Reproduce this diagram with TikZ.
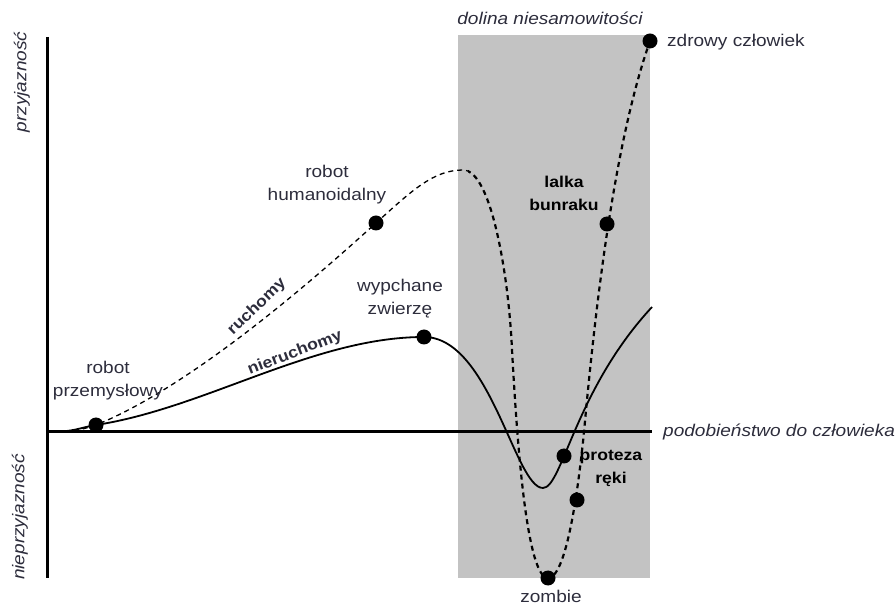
\documentclass[tikz,border=0pt]{standalone}
\usepackage{fontspec}
\setmainfont[FakeStretch=1.12]{Liberation Sans}
\definecolor{greyv}{RGB}{195,195,195}
\definecolor{inkd}{RGB}{45,45,60}

\begin{document}
\begin{tikzpicture}[x=1pt,y=-1pt,
        lbl/.style={text=inkd, font=\fontsize{17}{23}\selectfont, align=center, inner sep=0pt},
        ilbl/.style={lbl, font=\fontsize{17}{23}\selectfont\itshape},
        blbl/.style={text=black, font=\fontsize{15.7}{23}\selectfont\bfseries, align=center, inner sep=0pt},
        dot/.style={circle, fill=black, minimum size=15pt, inner sep=0pt},
        ruch/.style={dash pattern=on 5pt off 4pt}]
            \useasboundingbox (0,0) rectangle (895,609);
            % valley and axes
            \fill[greyv] (458,35) rectangle (650,578);
            \draw[line width=3pt] (47,37) -- (47,578);
            \draw[line width=3pt] (47,432) -- (652,432);
            % nieruchomy
            \draw[line width=1.8pt] (47,432) .. controls (75,432) and (80,427.5) .. (96,425)
                .. controls (206,408) and (314,337) .. (424,337)
                .. controls (490,337) and (515,488) .. (543,488)
                .. controls (562,488) and (575,390) .. (652,307);
            % ruchomy, thin then thick
            \path[save path=\ruchpath] (47,432) .. controls (75,432) and (80,430) .. (96,425)
                .. controls (200,383) and (336,259) .. (376,223)
                .. controls (411,191.5) and (433,170) .. (463,170)
                .. controls (492,170) and (509,280) .. (512,350)
                .. controls (516,420) and (525,578) .. (548,578)
                .. controls (565,578) and (577,502) .. (584,432)
                .. controls (596,300) and (615,140) .. (650,41);
            \begin{scope}
                \clip (40,0) rectangle (468,609);
                \draw[ruch, line width=1.3pt, use path=\ruchpath];
            \end{scope}
            \begin{scope}
                \clip (468,0) rectangle (700,609);
                \draw[ruch, line width=2.2pt, use path=\ruchpath];
            \end{scope}
            \foreach \n/\x/\y in {robprz/96/425, robhum/376/223, wypzw/424/337, lalka/607/224, protez/564/456, protdash/577/500, zombie/548/578, zdrowy/650/41}
                {\node[dot] (\n) at (\x,\y) {};}
            % labels
            \node[ilbl] (dolina) at (550,18) {dolina niesamowitości};
            \node[lbl, anchor=west] (zdrowylbl) at (667,42) {zdrowy człowiek};
            \node[ilbl, anchor=west] (podob) at (663,432) {podobieństwo do człowieka};
            \node[ilbl, rotate=90] (przyj) at (22,82) {przyjazność};
            \node[ilbl, rotate=90] (nieprzyj) at (20,517) {nieprzyjazność};
            \node[lbl] (robprzlbl) at (108,381) {robot\\przemysłowy};
            \node[lbl] (robhumlbl) at (327,185) {robot\\humanoidalny};
            \node[lbl] (wypzwlbl) at (400,299) {wypchane\\zwierzę};
            \node[blbl] (lalkalbl) at (564,193) {lalka\\bunraku};
            \node[blbl] (protezlbl) at (611,468) {proteza\\ręki};
            \node[lbl] (zombielbl) at (551,596) {zombie};
            \node[blbl, text=inkd, rotate=44] (ruchlbl) at (257,307) {ruchomy};
            \node[blbl, text=inkd, rotate=21] (nieruchlbl) at (295,353) {nieruchomy};
        \end{tikzpicture}
\end{document}
